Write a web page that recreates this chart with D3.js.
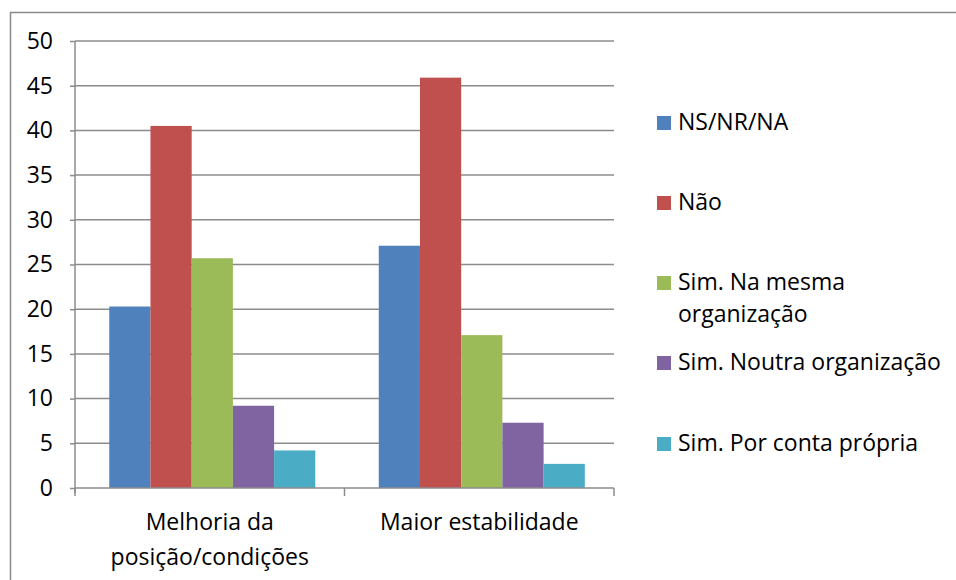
<!DOCTYPE html>
<html>
  <head>
    <meta charset="utf-8">
    <script src="https://d3js.org/d3.v7.min.js"></script>
    <style type="text/css">
      body { margin: 0; background: #fff; }
      svg { display: block; }
      text { font-family: "Open Sans", "Noto Sans", sans-serif; fill: #000; }
    </style>
  </head>
  <body>
    <div id="chart"></div>
    <script type="text/javascript">
      var categories = [["Melhoria da", "posição/condições"], ["Maior estabilidade"]];
      var seriesNames = ["NS/NR/NA", "Não", "Sim. Na mesma organização", "Sim. Noutra organização", "Sim. Por conta própria"];
      var legendLines = [["NS/NR/NA"], ["Não"], ["Sim. Na mesma", "organização"], ["Sim. Noutra organização"], ["Sim. Por conta própria"]];
      var colors = ["#4f81bd", "#c0504d", "#9bbb59", "#8064a2", "#4bacc6"];
      // values per series, one per category
      var nsnrna   = [20.3, 27.1];
      var nao      = [40.5, 45.9];
      var simMesma = [25.7, 17.1];
      var simOutra = [9.2, 7.3];
      var simConta = [4.2, 2.7];
      var yTicks = [0, 5, 10, 15, 20, 25, 30, 35, 40, 45, 50];

      var values = [nsnrna, nao, simMesma, simOutra, simConta];

      var width = 956, height = 580,
          margin = {top: 41, left: 75},
          plotW = 539, plotH = 447,
          fontSize = "23px";

      var svg = d3.select("#chart").append("svg")
        .attr("width", width)
        .attr("height", height);

      // outer chart border
      svg.append("path")
        .attr("d", "M10.5," + height + "V12.5H" + width)
        .attr("fill", "none")
        .attr("stroke", "#8a8a8a")
        .attr("stroke-width", 1.5);

      var g = svg.append("g")
        .attr("transform", "translate(" + margin.left + "," + margin.top + ")");

      var x0 = d3.scaleBand().domain(d3.range(categories.length)).range([0, plotW]);
      var x1 = d3.scaleBand().domain(d3.range(seriesNames.length)).range([0, x0.bandwidth()])
        .paddingInner(0).paddingOuter(0.77).align(0.54);
      var y = d3.scaleLinear().domain([0, 50]).range([plotH, 0]);

      // gridlines
      g.append("g").selectAll("line")
        .data(yTicks.slice(1))
        .enter().append("line")
          .attr("x1", 0).attr("x2", plotW)
          .attr("y1", function(d) { return y(d); })
          .attr("y2", function(d) { return y(d); })
          .attr("stroke", "#8c8c8c")
          .attr("stroke-width", 1.5);

      // bars
      var groups = g.append("g").selectAll("g")
        .data(categories)
        .enter().append("g")
          .attr("transform", function(d, i) { return "translate(" + x0(i) + ",0)"; });

      groups.selectAll("rect")
        .data(function(d, ci) { return values.map(function(s, si) { return {s: si, v: s[ci]}; }); })
        .enter().append("rect")
          .attr("x", function(d) { return x1(d.s); })
          .attr("y", function(d) { return y(d.v); })
          .attr("width", x1.bandwidth())
          .attr("height", function(d) { return plotH - y(d.v); })
          .attr("fill", function(d) { return colors[d.s]; });

      // y axis
      var yAxis = g.append("g")
        .call(d3.axisLeft(y).tickValues(yTicks).tickSize(5).tickPadding(17));
      yAxis.select(".domain").attr("stroke", "#8c8c8c").attr("stroke-width", 1.5)
        .attr("d", "M0,0V" + (plotH + 5));
      yAxis.selectAll(".tick line").attr("stroke", "#8c8c8c").attr("stroke-width", 1.5);
      yAxis.selectAll(".tick text").style("font-size", fontSize).attr("fill", "#000");

      // x axis
      var xAxis = g.append("g")
        .attr("transform", "translate(0," + plotH + ")");
      xAxis.append("line")
        .attr("x1", 0).attr("x2", plotW)
        .attr("stroke", "#8c8c8c").attr("stroke-width", 1.5);
      xAxis.selectAll(".xtick")
        .data(d3.range(categories.length + 1))
        .enter().append("line")
          .attr("x1", function(d) { return d * x0.bandwidth(); })
          .attr("x2", function(d) { return d * x0.bandwidth(); })
          .attr("y1", 0).attr("y2", 8)
          .attr("stroke", "#8c8c8c").attr("stroke-width", 1.5);

      xAxis.selectAll(".xlabel")
        .data(categories)
        .enter().append("text")
          .attr("text-anchor", "middle")
          .attr("transform", function(d, i) { return "translate(" + (x0(i) + x0.bandwidth() / 2) + ",0)"; })
          .style("font-size", fontSize)
          .each(function(d) {
            var t = d3.select(this);
            d.forEach(function(line, li) {
              t.append("tspan").attr("x", 0).attr("y", 42 + li * 35).text(line);
            });
          });

      // legend
      var legendY = [123, 203, 283, 363, 444];
      var legend = svg.append("g").selectAll("g")
        .data(legendLines)
        .enter().append("g")
          .attr("transform", function(d, i) { return "translate(657," + legendY[i] + ")"; });

      legend.append("rect")
        .attr("x", 0).attr("y", -7)
        .attr("width", 14).attr("height", 14)
        .attr("fill", function(d, i) { return colors[i]; });

      legend.append("text")
        .style("font-size", fontSize)
        .each(function(d) {
          var t = d3.select(this);
          d.forEach(function(line, li) {
            t.append("tspan").attr("x", 21).attr("y", 7 + li * 32).text(line);
          });
        });
    </script>
  </body>
</html>
